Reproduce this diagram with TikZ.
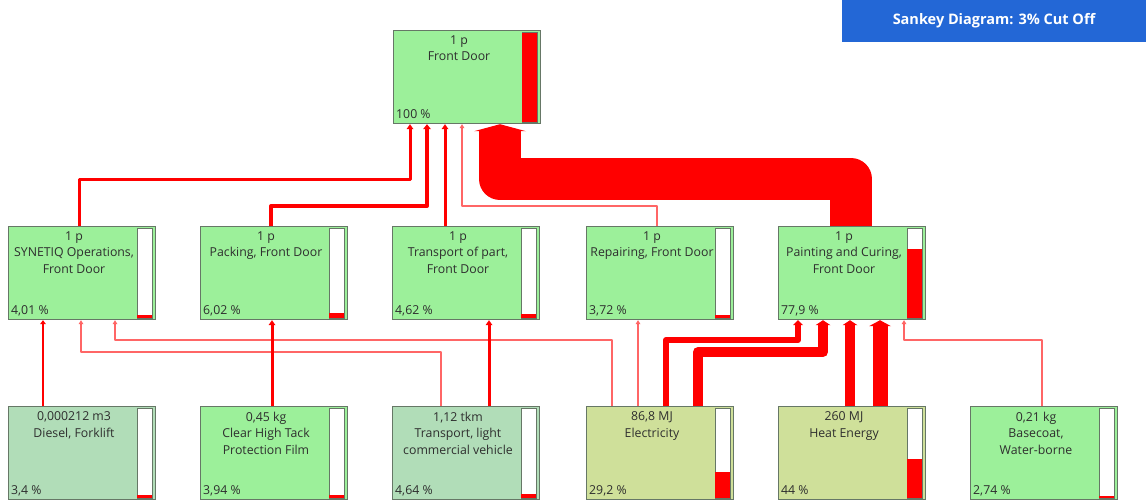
\documentclass[tikz,border=0pt]{standalone}
\usepackage{fontspec}
\setmainfont{Open Sans}
\usetikzlibrary{arrows.meta,calc}
\definecolor{bxgreen}{HTML}{9CF09A}
\definecolor{bxgray}{HTML}{B1DDB8}
\definecolor{bxyel}{HTML}{CFE09A}
\definecolor{bxline}{HTML}{667766}
\definecolor{ttlblue}{HTML}{2367D6}
\definecolor{txt}{HTML}{2E2E2E}
\newcommand{\skbox}[7]{%
  \node[box, fill=#4] (#1) at (#2,#3) {};
  \node[lbl] (#1-txt) at ($(#1.north west)+(66,5.5)$) {#5};
  \node[pct] (#1-pct) at ($(#1.south west)+(3,-6)$) {#6};
  \draw[bar] ($(#1.south west)+(129,-2)$) rectangle ($(#1.north west)+(144,2)$);
  \fill[red] ($(#1.south west)+(129,-2)$) rectangle ($(#1.south west)+(144,{-2-0.89*#7})$);
}
\begin{document}
\begin{tikzpicture}[x=1pt,y=-1pt,
  box/.style={draw=bxline, line width=1.2pt, minimum width=147pt, minimum height=93pt, inner sep=0pt, anchor=north west},
  lbl/.style={anchor=north, align=center, font=\fontsize{12.3}{16.5}\selectfont, text=txt, inner sep=0pt},
  pct/.style={anchor=base west, font=\fontsize{12.3}{14}\selectfont, text=txt, inner sep=0pt},
  bar/.style={draw=bxline, line width=1pt, fill=white},
  fl/.style n args={3}{draw=red, line width=#1pt, line join=round, -{Triangle[length=#2pt,width=#3pt,line width=0pt]}},
  lt/.style={opacity=0.6}
]
\useasboundingbox (0,0) rectangle (1146,499);
\fill[ttlblue] (842,0) rectangle (1146,42);
\node[font=\bfseries\fontsize{14.5}{17}\selectfont, text=white] (title) at (994,21) {Sankey Diagram: 3\% Cut Off};

\skbox{fd}{393}{30}{bxgreen}{1 p\\Front Door}{100 \%}{100}
\skbox{syn}{8}{226}{bxgreen}{1 p\\SYNETIQ Operations,\\Front Door}{4,01 \%}{4.01}
\skbox{pack}{200}{226}{bxgreen}{1 p\\Packing, Front Door}{6,02 \%}{6.02}
\skbox{trp}{392}{226}{bxgreen}{1 p\\Transport of part,\\Front Door}{4,62 \%}{4.62}
\skbox{rep}{586}{226}{bxgreen}{1 p\\Repairing, Front Door}{3,72 \%}{3.72}
\skbox{paint}{778}{226}{bxgreen}{1 p\\Painting and Curing,\\Front Door}{77,9 \%}{77.9}
\skbox{dsl}{8}{406}{bxgray}{0,000212 m3\\Diesel, Forklift}{3,4 \%}{3.4}
\skbox{film}{200}{406}{bxgreen}{0,45 kg\\Clear High Tack\\Protection Film}{3,94 \%}{3.94}
\skbox{lcv}{392}{406}{bxgray}{1,12 tkm\\Transport, light\\commercial vehicle}{4,64 \%}{4.64}
\skbox{ele}{586}{406}{bxyel}{86,8 MJ\\Electricity}{29,2 \%}{29.2}
\skbox{heat}{778}{406}{bxyel}{260 MJ\\Heat Energy}{44 \%}{44}
\skbox{base}{970}{406}{bxgreen}{0,21 kg\\Basecoat,\\Water-borne}{2,74 \%}{2.74}

% flows into Front Door
\draw[fl={3}{5}{7}] ($(syn.north west)+(71,0)$) -- (79,179) -- (410,179) -- ($(fd.south west)+(17,0)$);
\draw[fl={4}{5}{8}] ($(pack.north west)+(71,0)$) -- (271,206) -- (427,206) -- ($(fd.south west)+(34,0)$);
\draw[fl={3}{5}{7}] ($(trp.north west)+(53,0)$) -- ($(fd.south west)+(52,0)$);
\draw[fl={1.5}{4}{5},lt] ($(rep.north west)+(71,0)$) -- (657,206) -- (462,206) -- ($(fd.south west)+(69,0)$);
\draw[fl={42}{7}{52}] ($(paint.north west)+(73,0)$) -- (851,179) -- (500,179) -- ($(fd.south west)+(107,0)$);

% flows into middle row
\draw[fl={2}{4}{6}] ($(dsl.north west)+(35,0)$) -- ($(syn.south west)+(35,0)$);
\draw[fl={1.2}{4}{5},lt] ($(lcv.north west)+(49,0)$) -- (441,352) -- (81,352) -- ($(syn.south west)+(73,0)$);
\draw[fl={1.2}{4}{5},lt] ($(ele.north west)+(26,0)$) -- (612,340) -- (115,340) -- ($(syn.south west)+(107,0)$);
\draw[fl={3}{5}{7}] ($(film.north west)+(72,0)$) -- ($(pack.south west)+(72,0)$);
\draw[fl={3}{5}{7}] ($(lcv.north west)+(97,0)$) -- ($(trp.south west)+(97,0)$);
\draw[fl={1.2}{4}{5},lt] ($(ele.north west)+(52,0)$) -- ($(rep.south west)+(52,0)$);
\draw[fl={6}{5}{10}] ($(ele.north west)+(80,0)$) -- (666,340) -- (798,340) -- ($(paint.south west)+(20,0)$);
\draw[fl={10}{5}{15}] ($(ele.north west)+(112,0)$) -- (698,352) -- (823,352) -- ($(paint.south west)+(45,0)$);
\draw[fl={10}{5}{15}] ($(heat.north west)+(72,0)$) -- ($(paint.south west)+(72,0)$);
\draw[fl={15}{6}{22}] ($(heat.north west)+(102,0)$) -- ($(paint.south west)+(102,0)$);
\draw[fl={1.2}{4}{5},lt] ($(base.north west)+(72,0)$) -- (1042,340) -- (904,340) -- ($(paint.south west)+(126,0)$);
\end{tikzpicture}
\end{document}
